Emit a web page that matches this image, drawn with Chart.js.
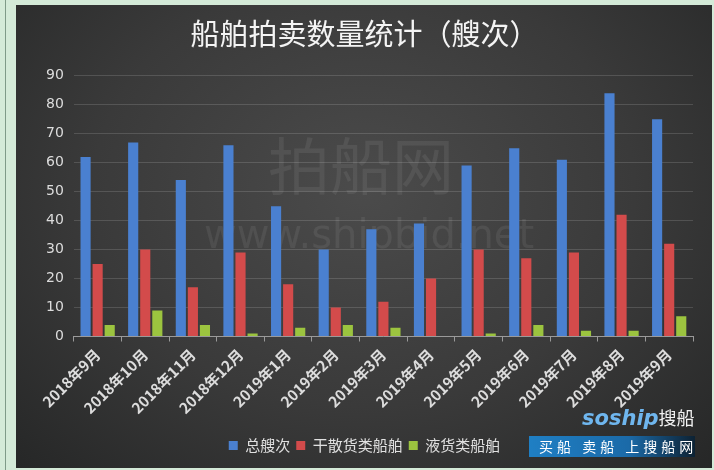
<!DOCTYPE html>
<html>
<head>
<meta charset="utf-8">
<script src="https://cdn.jsdelivr.net/npm/chart.js@4/dist/chart.umd.min.js"></script>
<style>
  html, body { margin: 0; padding: 0; }
  body { width: 714px; height: 470px; background: #d4ead8; position: relative; overflow: hidden; font-family: "Noto Sans CJK SC", sans-serif; }
  .edge { position: absolute; left: 5px; top: 0; width: 1px; height: 470px; background: #7f9a88; }
  .frame {
    position: absolute; left: 16px; top: 5px; width: 696px; height: 463px;
    background: radial-gradient(ellipse at 50% 40%, #4b4b4b 0%, #3a3a3a 55%, #262727 100%);
  }
  .logo { position: absolute; left: 529px; top: 436px; width: 166px; height: 21px;
    background: linear-gradient(90deg, #1f7fc4 0%, #1b6aa8 60%, #0d2233 100%);
    color: #fff; font-size: 14px; line-height: 21px; letter-spacing: 4px; padding-left: 10px; box-sizing: border-box; white-space: nowrap; }
  .soship { position: absolute; left: 582px; top: 404px; color: #6fb6ee; font: italic bold 21px "DejaVu Sans", sans-serif; }
  .soship span { font-style: normal; font-weight: normal; color: #f2f2f2; font-family: "Noto Sans CJK SC"; font-size: 18px; }
</style>
</head>
<body>
<div class="edge"></div>
<div class="frame"><canvas id="c"></canvas></div>
<div class="soship">soship<span>搜船</span></div>
<div class="logo">买船 卖船 上搜船网</div>
<script>
const months = ["2018年9月", "2018年10月", "2018年11月", "2018年12月", "2019年1月", "2019年2月", "2019年3月",
                "2019年4月", "2019年5月", "2019年6月", "2019年7月", "2019年8月", "2019年9月"];
const total = [62, 67, 54, 66, 45, 30, 37, 39, 59, 65, 61, 84, 75];
const dryBulk = [25, 30, 17, 29, 18, 10, 12, 20, 30, 27, 29, 42, 32];
const liquid = [4, 9, 4, 1, 3, 4, 3, 0, 1, 4, 2, 2, 7];
const yTicks = [0, 10, 20, 30, 40, 50, 60, 70, 80, 90];

// faint site watermark behind the bars
const watermark = {
    id: 'watermark',
    beforeDatasetsDraw(chart) {
        const ctx = chart.ctx;
        ctx.save();
        ctx.fillStyle = 'rgba(255,255,255,0.07)';
        ctx.textAlign = 'left';
        ctx.textBaseline = 'alphabetic';
        ctx.font = '62px "Noto Sans CJK SC"';
        ctx.fillText('拍船网', 252, 185);
        ctx.font = '40px "DejaVu Sans"';
        ctx.fillText('www.shipbid.net', 188, 243);
        ctx.restore();
    }
};

const ctx = document.getElementById('c').getContext('2d');
new Chart(ctx, {
    type: 'bar',
    data: {
        labels: months,
        datasets: [
            { label: '总艘次', data: total, backgroundColor: '#4a80d0' },
            { label: '干散货类船舶', data: dryBulk, backgroundColor: '#d34b4b' },
            { label: '液货类船舶', data: liquid, backgroundColor: '#9cc43f' }
        ]
    },
    options: {
        responsive: true,
        maintainAspectRatio: false,
        animation: false,
        datasets: { bar: { categoryPercentage: 0.76, barPercentage: 0.84 } },
        layout: { padding: { left: 20, right: 19, top: 10, bottom: 5 } },
        plugins: {
            title: {
                display: true,
                text: '船舶拍卖数量统计（艘次）',
                color: '#f4f4f4',
                font: { family: 'Noto Sans CJK SC', size: 29, weight: 'normal' },
                padding: { top: 2, bottom: 24 }
            },
            legend: {
                position: 'bottom',
                labels: {
                    color: '#e0e0e0',
                    boxWidth: 9, boxHeight: 9,
                    padding: 6,
                    font: { family: 'Noto Sans CJK SC', size: 15 }
                }
            },
            tooltip: { enabled: false }
        },
        scales: {
            x: {
                afterFit(scale) { scale.height += 11; },
                grid: { display: true, drawOnChartArea: false, drawTicks: true, tickLength: 5, color: '#9a9a9a', offset: true },
                border: { color: '#9a9a9a' },
                ticks: {
                    color: '#dcdcdc', minRotation: 45, maxRotation: 45, padding: 4,
                    font: { family: 'Noto Sans CJK SC', size: 15, weight: 'bold' }
                }
            },
            y: {
                min: 0, max: 90,
                afterBuildTicks(axis) { axis.ticks = yTicks.map(v => ({ value: v })); },
                grid: { color: 'rgba(255,255,255,0.14)', drawTicks: false },
                border: { display: false },
                ticks: {
                    color: '#dcdcdc', padding: 10,
                    font: { family: 'DejaVu Sans', size: 14 }
                }
            }
        }
    },
    plugins: [watermark]
});
</script>
</body>
</html>
